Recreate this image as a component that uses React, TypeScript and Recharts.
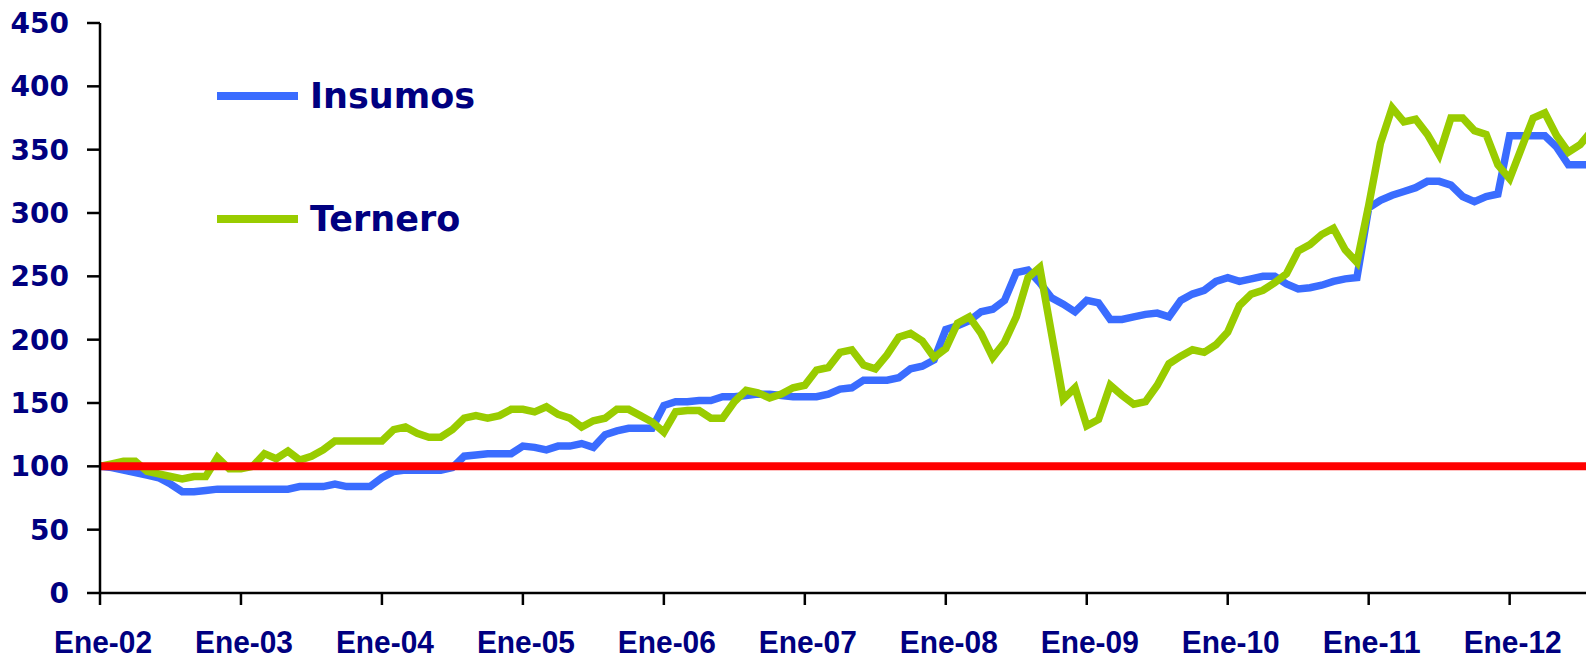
import { Legend, Line, LineChart, ReferenceLine, XAxis, YAxis } from "recharts";

const NAVY = "#000080";
const BLUE = "#3a6cff";
const GREEN = "#99cc00";
const RED = "#ff0000";

const YEAR_LABELS = ["Ene-02", "Ene-03", "Ene-04", "Ene-05", "Ene-06", "Ene-07", "Ene-08", "Ene-09", "Ene-10", "Ene-11", "Ene-12"];
const Y_TICKS = [0, 50, 100, 150, 200, 250, 300, 350, 400, 450];
const BASE = 100;

// monthly index values, Ene-02 = first entry
const INSUMOS = [
  100, 99, 97, 95, 93, 91, 86, 80, 80, 81, 82, 82,
  82, 82, 82, 82, 82, 84, 84, 84, 86, 84, 84, 84,
  91, 96, 97, 97, 97, 97, 99, 108, 109, 110, 110, 110,
  116, 115, 113, 116, 116, 118, 115, 125, 128, 130, 130, 130,
  148, 151, 151, 152, 152, 155, 155, 156, 157, 157, 156, 155,
  155, 155, 157, 161, 162, 168, 168, 168, 170, 177, 179, 184,
  208, 211, 215, 222, 224, 231, 253, 255, 245, 233, 228, 222,
  231, 229, 216, 216, 218, 220, 221, 218, 231, 236, 239, 246,
  249, 246, 248, 250, 250, 244, 240, 241, 243, 246, 248, 249,
  304, 310, 314, 317, 320, 325, 325, 322, 313, 309, 313, 315,
  361, 361, 361, 361, 352, 338, 338, 338,
];

const TERNERO = [
  100, 102, 104, 104, 96, 94, 92, 90, 92, 92, 107, 98,
  98, 100, 110, 106, 112, 105, 108, 113, 120, 120, 120, 120,
  120, 129, 131, 126, 123, 123, 129, 138, 140, 138, 140, 145,
  145, 143, 147, 141, 138, 131, 136, 138, 145, 145, 140, 135,
  127, 143, 144, 144, 138, 138, 151, 160, 158, 154, 157, 162,
  164, 176, 178, 190, 192, 180, 177, 188, 202, 205, 199, 186,
  193, 213, 218, 205, 186, 198, 218, 249, 257, 205, 153, 162,
  132, 137, 164, 156, 149, 151, 164, 181, 187, 192, 190, 196,
  206, 227, 236, 239, 245, 252, 270, 275, 283, 288, 271, 261,
  306, 355, 383, 372, 374, 362, 346, 375, 375, 365, 362, 338,
  327, 351, 375, 379, 361, 348, 354, 365,
];

const data = INSUMOS.map((v, i) => ({ m: i, insumos: v, ternero: TERNERO[i] }));
const X_TICKS = YEAR_LABELS.map((_, i) => i * 12);

// condensed bold labels under the x axis
function YearTick({ x, y, payload }: any) {
  return (
    <text
      x={x + 3}
      y={y}
      dy="0.71em"
      textAnchor="middle"
      textLength={98}
      lengthAdjust="spacingAndGlyphs"
      fill={NAVY}
      fontSize={32}
      fontWeight={700}
      fontFamily="Liberation Sans"
    >
      {YEAR_LABELS[Math.round(payload.value / 12)]}
    </text>
  );
}

function LegendBox({ payload }: any) {
  return (
    <div style={{ fontFamily: "DejaVu Sans", fontWeight: 700, fontSize: 35, color: NAVY }}>
      {(payload ?? []).map((p: any, i: number) => (
        <div
          key={p.value}
          style={{ display: "flex", alignItems: "center", height: 60, marginBottom: i === 0 ? 63 : 0 }}
        >
          <span style={{ display: "inline-block", width: 81, height: 8, background: p.color, marginRight: 12 }} />
          <span>{p.value}</span>
        </div>
      ))}
    </div>
  );
}

export default function App() {
  return (
    <div style={{ position: "absolute", left: 0, top: 0, width: 1586, height: 660, background: "#fff" }}>
      <LineChart width={1586} height={660} data={data} margin={{ top: 23, right: 0, left: 0, bottom: 0 }}>
        <XAxis
          type="number"
          dataKey="m"
          domain={[0, 126.5]}
          allowDataOverflow
          ticks={X_TICKS}
          interval={0}
          height={67}
          tickSize={12}
          tickMargin={25}
          axisLine={{ stroke: "#000", strokeWidth: 2.5 }}
          tickLine={{ stroke: "#000", strokeWidth: 2.5 }}
          tick={YearTick}
        />
        <YAxis
          type="number"
          domain={[0, 450]}
          ticks={Y_TICKS}
          interval={0}
          width={100}
          tickSize={13}
          tickMargin={18}
          axisLine={{ stroke: "#000", strokeWidth: 2.5 }}
          tickLine={{ stroke: "#000", strokeWidth: 2.5 }}
          tick={{ fill: NAVY, fontSize: 28, fontWeight: 700, fontFamily: "DejaVu Sans" }}
        />
        <Legend
          layout="horizontal"
          verticalAlign="middle"
          align="center"
          content={LegendBox}
          wrapperStyle={{ left: 217, top: 66, width: 300, height: 200 }}
        />
        <Line
          type="linear"
          dataKey="insumos"
          name="Insumos"
          stroke={BLUE}
          strokeWidth={7.5}
          dot={false}
          activeDot={false}
          isAnimationActive={false}
        />
        <Line
          type="linear"
          dataKey="ternero"
          name="Ternero"
          stroke={GREEN}
          strokeWidth={7.5}
          dot={false}
          activeDot={false}
          isAnimationActive={false}
        />
        <ReferenceLine y={BASE} stroke={RED} strokeWidth={8} />
      </LineChart>
    </div>
  );
}
